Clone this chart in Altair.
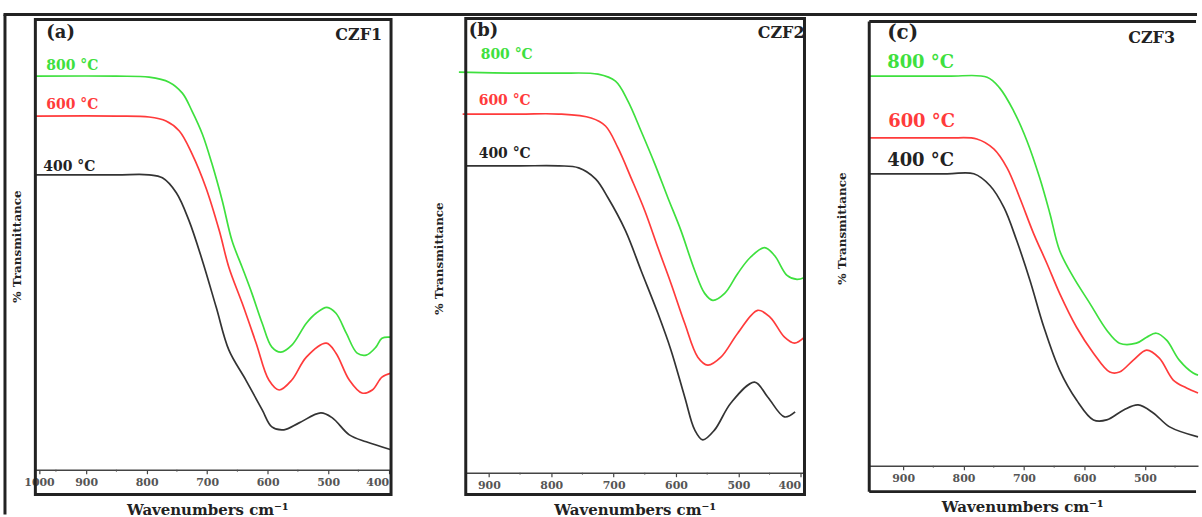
import altair as alt
import pandas as pd

# ---------------- data ----------------
SERIES = ["400 °C", "600 °C", "800 °C"]
COLORS = ["#333333", "#ff3b3b", "#3ee03e"]

# Panel (a) CZF1
a_wn_800 = [984, 850, 796, 763, 741, 725, 708, 692, 675, 659, 642, 626, 609, 593, 578, 560, 536, 520, 502, 487, 470, 452, 437, 421, 411, 396]
a_t_800 = [395, 395, 394, 389, 378, 360, 337, 307, 270, 230, 203, 177, 147, 123, 118, 125, 147, 157, 163, 157, 137, 117, 115, 123, 132, 133]
a_wn_600 = [984, 850, 796, 768, 746, 725, 702, 680, 664, 642, 619, 598, 581, 560, 536, 503, 487, 465, 444, 427, 411, 396]
a_t_600 = [355, 355, 354, 350, 340, 317, 283, 240, 203, 167, 127, 90, 80, 90, 113, 127, 117, 90, 77, 80, 93, 97]
a_wn_400 = [984, 850, 796, 774, 751, 730, 708, 685, 664, 636, 609, 593, 573, 548, 512, 493, 465, 437, 396]
a_t_400 = [296, 296, 296, 293, 278, 250, 210, 163, 120, 90, 60, 43, 40, 47, 57, 52, 35, 28, 20]

# Panel (b) CZF2
b_wn_800 = [948, 850, 788, 725, 697, 677, 656, 634, 613, 592, 570, 554, 541, 522, 501, 481, 458, 442, 422, 406, 394]
b_t_800 = [402, 401, 401, 400, 393, 373, 343, 310, 276, 243, 203, 180, 173, 180, 200, 216, 226, 218, 198, 194, 196]
b_wn_600 = [942, 850, 788, 736, 713, 693, 672, 650, 629, 608, 586, 565, 549, 528, 501, 469, 449, 426, 410, 394]
b_t_600 = [360, 360, 360, 356, 348, 326, 296, 263, 226, 190, 150, 116, 108, 116, 140, 163, 156, 136, 130, 136]
b_wn_400 = [937, 850, 788, 756, 729, 709, 681, 656, 629, 608, 586, 570, 557, 538, 512, 474, 453, 426, 409]
b_t_400 = [308, 308, 308, 306, 295, 276, 243, 203, 160, 123, 76, 43, 33, 43, 70, 91, 76, 56, 61]

# Panel (c) CZF3
c_wn_800 = [956, 827, 761, 740, 717, 695, 674, 657, 641, 618, 591, 563, 542, 514, 497, 481, 464, 443, 420, 412]
c_t_800 = [391, 391, 390, 379, 356, 326, 289, 253, 216, 189, 163, 136, 123, 123, 129, 133, 126, 106, 93, 91]
c_wn_600 = [956, 827, 778, 750, 728, 707, 684, 662, 641, 613, 585, 558, 542, 519, 497, 476, 453, 431, 412]
c_t_600 = [329, 329, 328, 318, 299, 269, 233, 203, 173, 139, 113, 94, 94, 106, 116, 108, 86, 78, 73]
c_wn_400 = [956, 827, 783, 756, 733, 712, 690, 667, 641, 613, 585, 563, 535, 511, 486, 459, 412]
c_t_400 = [293, 293, 293, 281, 259, 226, 186, 139, 96, 66, 46, 46, 56, 61, 53, 39, 29]

# axis ticks / labels
a_ticks = [978, 900, 800, 700, 600, 500, 400]
a_tick_labels = ["1000", "900", "800", "700", "600", "500", "400"]
b_ticks = [900, 800, 700, 600, 500, 400]
b_tick_labels = ["900", "800", "700", "600", "500", "400"]
c_ticks = [900, 800, 700, 600, 500]
c_tick_labels = ["900", "800", "700", "600", "500"]
a_minor = [950, 850, 750, 650, 550, 450]
b_minor = [850, 750, 650, 550, 450]
c_minor = [850, 750, 650, 550, 450]

X_TITLE = "Wavenumbers cm⁻¹"
Y_TITLE = "% Transmittance"
SERIF = "DejaVu Serif"
DARK = "#222222"
GREEN = "#3ee03e"
RED = "#ff3b3b"


def make_df(wn400, t400, wn600, t600, wn800, t800):
    rows = []
    for name, wns, ts in ((SERIES[0], wn400, t400), (SERIES[1], wn600, t600), (SERIES[2], wn800, t800)):
        for w, t in zip(wns, ts):
            rows.append({"wn": w, "T": t, "series": name})
    return pd.DataFrame(rows)


ONE = pd.DataFrame({"k": [0]})


def label_expr(vals, labels):
    parts = [f"datum.value == {v} ? '{l}'" for v, l in zip(vals, labels)]
    return " : ".join(parts) + " : ''"


def text(label, x, y, size, color=DARK, align="left", weight="bold", angle=0):
    kw = dict(text=label, align=align, baseline="middle", font=SERIF,
              fontSize=size, fontWeight=weight, color=color)
    if angle:
        kw["angle"] = angle
    return alt.Chart(ONE).mark_text(**kw).encode(x=alt.value(x), y=alt.value(y))


def rule(x1, x2, y1, y2, w=3, color=DARK):
    return alt.Chart(ONE).mark_rule(color=color, strokeWidth=w).encode(
        x=alt.value(x1), x2=alt.value(x2), y=alt.value(y1), y2=alt.value(y2))


def panel(df, W, H, dom, rng, ticks, tick_labels, minor, flush, extra):
    xenc = alt.X("wn:Q",
                 scale=alt.Scale(domain=dom, range=rng, nice=False, zero=False),
                 axis=alt.Axis(values=ticks, labelExpr=label_expr(ticks, tick_labels),
                               title=None, grid=False, domainColor="#444", domainWidth=1.5,
                               tickColor="#444", tickSize=4, tickWidth=1.2,
                               labelFont=SERIF, labelFontWeight="bold", labelFontSize=11,
                               labelColor="#555", labelPadding=3, labelFlush=flush))
    yenc = alt.Y("T:Q", scale=alt.Scale(domain=[0, H], nice=False, zero=False), axis=None)
    lines = alt.Chart(df).mark_line(interpolate="catmull-rom", strokeWidth=1.7, clip=False).encode(
        x=xenc, y=yenc,
        color=alt.Color("series:N", scale=alt.Scale(domain=SERIES, range=COLORS), legend=None))
    minor_ticks = alt.Chart(pd.DataFrame({"wn": minor})).mark_rule(color="#555", strokeWidth=1).encode(
        x=xenc, y=alt.value(H), y2=alt.value(H + 2))
    return alt.layer(lines, minor_ticks, *extra).properties(width=W, height=H)


# ---------- panel (a) ----------
Wa, Ha = 357, 452
pa = panel(make_df(a_wn_400, a_t_400, a_wn_600, a_t_600, a_wn_800, a_t_800),
           Wa, Ha, [984, 396], [0, Wa], a_ticks, a_tick_labels, a_minor, 3, [
               alt.Chart(ONE).mark_rect(fillOpacity=0, stroke=DARK, strokeWidth=3).encode(
                   x=alt.value(0), x2=alt.value(Wa), y=alt.value(0), y2=alt.value(Ha + 25)),
               rule(-32, 1166, -5, -5),
               rule(-30.5, -30.5, -5, 497),
               text(Y_TITLE, -18, 228, 12, align="center", angle=270),
               text(X_TITLE, 173, 492, 15, align="center"),
               text("(a)", 11, 14, 18),
               text("CZF1", 348, 16, 16, align="right"),
               text("800 °C", 11, 47, 14, color=GREEN),
               text("600 °C", 11, 86, 14, color=RED),
               text("400 °C", 8, 148, 14),
           ])

# ---------- panel (b) ----------
Wb, Hb = 350, 455
pb = panel(make_df(b_wn_400, b_t_400, b_wn_600, b_t_600, b_wn_800, b_t_800),
           Wb, Hb, [937, 394], [10, Wb], b_ticks, b_tick_labels, b_minor, 5, [
               alt.Chart(ONE).mark_rect(fillOpacity=0, stroke=DARK, strokeWidth=3).encode(
                   x=alt.value(10), x2=alt.value(Wb), y=alt.value(-1), y2=alt.value(477)),
               text(Y_TITLE, -17, 240, 12, align="center", angle=270),
               text(X_TITLE, 180, 492, 15, align="center"),
               text("(b)", 13, 12, 18),
               text("CZF2", 350, 14, 16, align="right"),
               text("800 °C", 25, 36, 14, color=GREEN),
               text("600 °C", 23, 82, 14, color=RED),
               text("400 °C", 23, 135, 14),
           ])

# ---------- panel (c) ----------
Wc, Hc = 330, 448
pc = panel(make_df(c_wn_400, c_t_400, c_wn_600, c_t_600, c_wn_800, c_t_800),
           Wc, Hc, [956, 412], [0, Wc], c_ticks, c_tick_labels, c_minor, 5, [
               rule(0, 0, 2, 474),
               rule(0, 328, 2, 2),
               rule(0, 328, 474, 474),
               text(Y_TITLE, -27, 210, 12, align="center", angle=270),
               text(X_TITLE, 154, 489, 15, align="center"),
               text("(c)", 18, 14, 20),
               text("CZF3", 260, 19, 16),
               text("800 °C", 18, 44, 18, color=GREEN),
               text("600 °C", 19, 103, 18, color=RED),
               text("400 °C", 18, 142, 18),
           ])

chart = alt.hconcat(pa, pb, pc, spacing=65, bounds="flush").properties(
    padding={"left": 1.5, "top": 11.5, "right": 0, "bottom": 0}
).configure_view(stroke=None)

chart.save("out.html", embed_options={"renderer": "svg", "actions": False})
